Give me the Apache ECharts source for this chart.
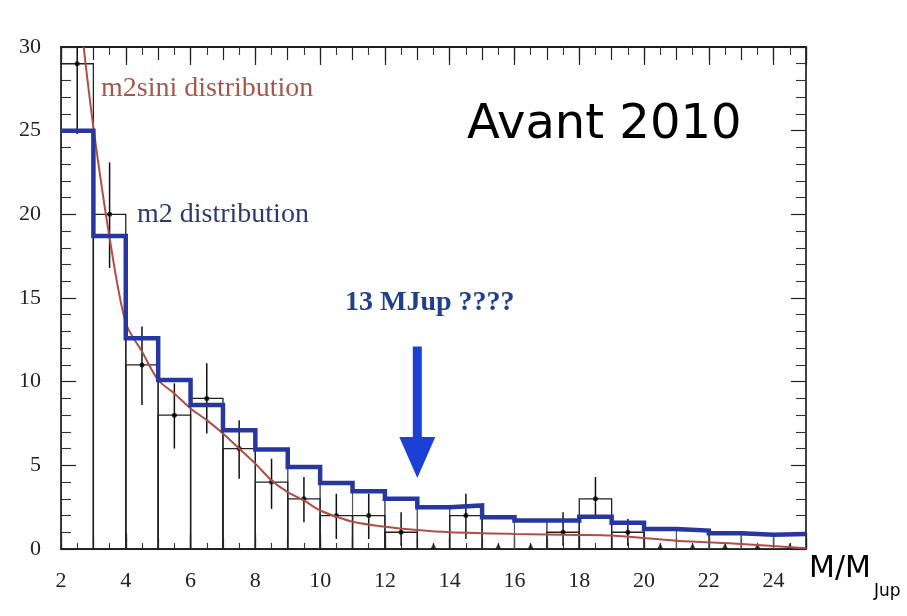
<!DOCTYPE html>
<html>
<head>
<meta charset="utf-8">
<script src="https://cdn.jsdelivr.net/npm/echarts@6/dist/echarts.min.js"></script>
<style>
  html, body { margin: 0; padding: 0; background: #fff; }
  #chart { width: 907px; height: 616px; }
</style>
</head>
<body>
<div id="chart"></div>
<script>
// bins are 1 MJup wide, from 2 to 25
const binEdges = [2, 3, 4, 5, 6, 7, 8, 9, 10, 11, 12, 13, 14, 15, 16, 17, 18, 19, 20, 21, 22, 23, 24, 25];

// observed counts (black histogram) and their error bars
const observed = [29, 20, 11, 8, 9, 6, 4, 3, 2, 2, 1, 0, 2, 0, 0, 1, 3, 1, 0, 0, 0, 0, 0];
const errLow   = [24.8, 16.8, 8.6, 6.0, 6.9, 4.2, 2.4, 1.6, 0.6, 0.6, 0.2, 0, 0.6, 0, 0, 0.2, 1.8, 0.2, 0, 0, 0, 0, 0];
const errHigh  = [34, 23.1, 13.3, 9.9, 11.1, 7.7, 5.4, 4.3, 3.3, 3.3, 2.2, 0, 3.3, 0, 0, 2.2, 4.3, 1.8, 0, 0, 0, 0, 0];

// m2 distribution (blue step)
const m2Values = [25, 18.7, 12.6, 10.1, 8.6, 7.1, 5.95, 4.9, 3.95, 3.45, 3.0, 2.5, 2.6, 1.9, 1.7, 1.7, 1.93, 1.57, 1.2, 1.1, 0.94, 0.85, 0.9];

// m2sini distribution (red curve)
const curveX = [2.7, 3.0, 3.5, 4.0, 4.5, 5.0, 5.5, 6.0, 6.5, 7.0, 7.5, 8.0, 8.5, 9.0, 9.5, 10.0, 10.5, 11, 12, 13, 14, 16, 18, 19, 21, 23, 25];
const curveY = [30, 25.2, 18.6, 13.5, 11.8, 10.1, 9.3, 8.4, 7.7, 6.9, 6.0, 5.1, 4.1, 3.4, 2.9, 2.3, 1.93, 1.63, 1.33, 1.13, 1.0, 0.9, 0.84, 0.8, 0.5, 0.3, 0.05];

// 13 MJup arrow: x, top, tip
const arrow = [[13, 12.1, 4.25]];

const xTickLabels = [2, 4, 6, 8, 10, 12, 14, 16, 18, 20, 22, 24];
const yTickLabels = [0, 5, 10, 15, 20, 25, 30];

const chart = echarts.init(document.getElementById('chart'));

const obsBoxes = [];
const m2Boxes = [];
const errData = [];
const dots = [];
const zeroDots = [];
observed.forEach((v, i) => {
  const x0 = binEdges[i], x1 = binEdges[i + 1];
  const xc = (x0 + x1) / 2;
  m2Boxes.push([x0, x1, m2Values[i]]);
  if (v > 0) {
    obsBoxes.push([x0, x1, v]);
    errData.push([xc, errLow[i], errHigh[i]]);
    dots.push([xc, v]);
  } else {
    zeroDots.push([xc, 0]);
  }
});

const stepData = [];
m2Values.forEach((v, i) => {
  stepData.push([binEdges[i], v]);
  stepData.push([binEdges[i + 1], v]);
});

const curveData = curveX.map((x, i) => [x, curveY[i]]);

function boxItem(color, width) {
  return function (params, api) {
    const p0 = api.coord([api.value(0), 0]);
    const p1 = api.coord([api.value(1), api.value(2)]);
    return {
      type: 'rect',
      shape: { x: p0[0], y: p1[1], width: p1[0] - p0[0], height: p0[1] - p1[1] },
      style: { fill: 'none', stroke: color, lineWidth: width }
    };
  };
}

const serif = 'Liberation Serif';
const axisLine = { show: true, onZero: false, lineStyle: { color: '#111', width: 1.6 } };

function xAxisBase(pos, interval, showLabel, tickLen, minorLen) {
  return {
    type: 'value', position: pos, min: 2, max: 25, interval: interval,
    axisLine: axisLine,
    axisTick: { show: true, inside: true, length: tickLen, lineStyle: { color: '#222', width: 1.2 } },
    minorTick: minorLen ? { show: true, splitNumber: 2, length: minorLen, lineStyle: { color: '#333', width: 1.1 } } : { show: false },
    splitLine: { show: false },
    axisLabel: {
      show: showLabel, margin: 21, fontFamily: serif, fontSize: 22, color: '#222',
      formatter: v => (xTickLabels.indexOf(v) >= 0 ? String(v) : '')
    }
  };
}

function yAxisBase(pos, showLabel) {
  return {
    type: 'value', position: pos, min: 0, max: 30, interval: 5,
    axisLine: axisLine,
    axisTick: { show: true, inside: true, length: 15, lineStyle: { color: '#222', width: 1.2 } },
    minorTick: { show: true, splitNumber: 5, length: 10, lineStyle: { color: '#333', width: 1.1 } },
    splitLine: { show: false },
    axisLabel: {
      show: showLabel, margin: 20, fontFamily: serif, fontSize: 22, color: '#222',
      formatter: v => (yTickLabels.indexOf(v) >= 0 ? String(v) : '')
    }
  };
}

const option = {
  backgroundColor: '#fff',
  animation: false,
  grid: { left: 61, right: 101, top: 47, bottom: 67 },
  xAxis: [
    xAxisBase('bottom', 2, true, 16, 0),
    xAxisBase('bottom', 1, false, 11, 6),
    xAxisBase('top', 2, false, 18, 0),
    xAxisBase('top', 1, false, 13, 8)
  ],
  yAxis: [
    yAxisBase('left', true),
    yAxisBase('right', false)
  ],
  graphic: [
    { type: 'text', left: 101, top: 75, style: { text: 'm2sini distribution', fontFamily: serif, fontSize: 28, fill: '#a5574c' } },
    { type: 'text', left: 137, top: 201, style: { text: 'm2 distribution', fontFamily: serif, fontSize: 28, fill: '#2e3a6c' } },
    { type: 'text', left: 345, top: 289, style: { text: '13 MJup ????', fontFamily: serif, fontWeight: 'bold', fontSize: 28, fill: '#203f8c' } },
    { type: 'text', left: 467, top: 102, style: { text: 'Avant 2010', fontFamily: 'DejaVu Sans', fontSize: 48, fill: '#000' } },
    { type: 'text', left: 809, top: 554, style: { text: 'M/M', fontFamily: 'DejaVu Sans', fontSize: 30, fill: '#000' } },
    { type: 'text', left: 874, top: 583, style: { text: 'Jup', fontFamily: 'DejaVu Sans', fontSize: 17, fill: '#000' } }
  ],
  series: [
    {
      name: 'm2 bins', type: 'custom', clip: true,
      renderItem: boxItem('#555', 1.1),
      encode: { x: [0, 1], y: 2 },
      data: m2Boxes, z: 2
    },
    {
      name: 'observed', type: 'custom', clip: true,
      renderItem: boxItem('#222', 1.3),
      encode: { x: [0, 1], y: 2 },
      data: obsBoxes, z: 3
    },
    {
      name: 'errors', type: 'custom', clip: true,
      renderItem: function (params, api) {
        const a = api.coord([api.value(0), api.value(1)]);
        const b = api.coord([api.value(0), api.value(2)]);
        return { type: 'line', shape: { x1: a[0], y1: a[1], x2: b[0], y2: b[1] }, style: { stroke: '#111', lineWidth: 1.5 } };
      },
      encode: { x: 0, y: [1, 2] },
      data: errData, z: 4
    },
    {
      name: 'points', type: 'scatter', symbol: 'circle', symbolSize: 5,
      itemStyle: { color: '#000' }, data: dots, z: 5
    },
    {
      name: 'zero points', type: 'scatter', symbol: 'triangle', symbolSize: 6, symbolOffset: [0, -3],
      itemStyle: { color: '#111' }, data: zeroDots, z: 5
    },
    {
      name: 'm2sini distribution', type: 'line', smooth: 0.3, showSymbol: false, clip: true,
      lineStyle: { color: '#b04e44', width: 2 },
      data: curveData, z: 6
    },
    {
      name: 'm2 distribution', type: 'line', showSymbol: false, clip: true,
      lineStyle: { color: '#27379e', width: 4.5, join: 'miter' },
      data: stepData, z: 7
    },
    {
      name: 'arrow', type: 'custom', clip: false,
      renderItem: function (params, api) {
        const top = api.coord([api.value(0), api.value(1)]);
        const tip = api.coord([api.value(0), api.value(2)]);
        const headH = 41, headW = 18, shaft = 4.5;
        const x = top[0];
        return {
          type: 'polygon',
          shape: {
            points: [
              [x - shaft, top[1]], [x + shaft, top[1]], [x + shaft, tip[1] - headH],
              [x + headW, tip[1] - headH], [x, tip[1]], [x - headW, tip[1] - headH],
              [x - shaft, tip[1] - headH]
            ]
          },
          style: { fill: '#1a40d6' }
        };
      },
      encode: { x: 0, y: [1, 2] },
      data: arrow, z: 8
    }
  ]
};

chart.setOption(option);
</script>
</body>
</html>
